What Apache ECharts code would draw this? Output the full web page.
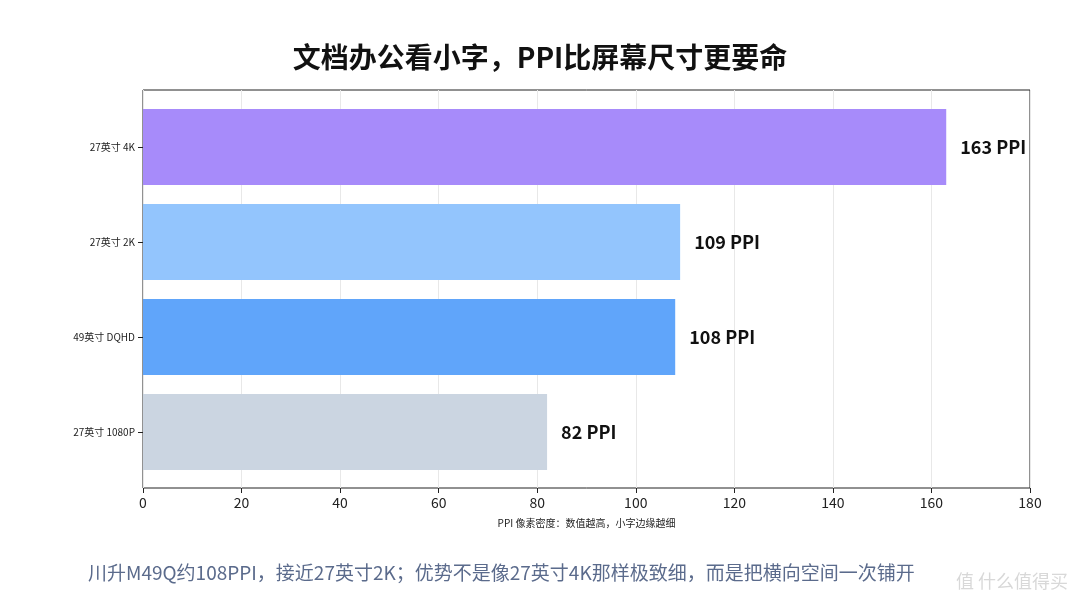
<!DOCTYPE html>
<html><head><meta charset="utf-8">
<script src="https://cdn.jsdelivr.net/npm/echarts@6/dist/echarts.min.js"></script>
<style>html,body{margin:0;padding:0;background:#fff}#c{width:1080px;height:608px}</style>
</head><body><div id="c"></div>
<script>
const categories = ['27英寸 1080P', '49英寸 DQHD', '27英寸 2K', '27英寸 4K'];
const values = [82, 108, 109, 163];
const colors = ['#cbd5e1', '#60a5fa', '#93c5fd', '#a78bfa'];
const xTicks = [0, 20, 40, 60, 80, 100, 120, 140, 160, 180];
const F = '"Noto Sans CJK SC","Noto Sans",sans-serif';
const chart = echarts.init(document.getElementById('c'));
chart.setOption({
  animation: false,
  title: {text: '文档办公看小字，PPI比屏幕尺寸更要命', left: 'center', top: 38,
    textStyle: {fontFamily: F, fontSize: 28, fontWeight: 'bold', color: '#111'}},
  graphic: [
    {type: 'text', left: 88, top: 563, style: {text: '川升M49Q约108PPI，接近27英寸2K；优势不是像27英寸4K那样极致细，而是把横向空间一次铺开',
      font: '19px ' + F, fill: '#5b6b8c'}},
    {type: 'text', right: 12, top: 572, style: {text: '值 什么值得买', font: '18px ' + F, fill: '#d8d8d8'}}
  ],
  grid: [
    {left: 143, right: 50, top: 99.5, bottom: 128.5},
    {left: 143, right: 50, top: 90, bottom: 120, show: true, borderColor: '#222', borderWidth: 1, z: 0}
  ],
  xAxis: [
    {type: 'value', min: 0, max: 180, interval: 20, offset: 8.5,
      name: 'PPI 像素密度：数值越高，小字边缘越细', nameLocation: 'middle', nameGap: 30,
      nameTextStyle: {fontFamily: F, fontSize: 10, color: '#222'},
      axisLine: {show: false}, axisTick: {show: true, lineStyle: {color: '#222'}},
      axisLabel: {fontFamily: F, fontSize: 14, color: '#222', customValues: xTicks},
      splitLine: {show: false}},
    {type: 'value', gridIndex: 1, min: 0, max: 180, interval: 20,
      axisLine: {show: false}, axisTick: {show: false}, axisLabel: {show: false},
      splitLine: {show: true, lineStyle: {color: '#e8e8e8'}}}
  ],
  yAxis: [
    {type: 'category', data: categories,
      axisLine: {show: false}, axisTick: {show: true, alignWithLabel: true, lineStyle: {color: '#222'}},
      axisLabel: {fontFamily: F, fontSize: 10, color: '#222'}},
    {type: 'value', gridIndex: 1, show: false, splitLine: {show: false}}
  ],
  series: [
    {type: 'bar', barWidth: '80%', z: 5, data: values.map((v, i) => ({value: v, itemStyle: {color: colors[i]}})),
      label: {show: true, position: 'right', distance: 14, formatter: p => p.value + ' PPI',
        fontFamily: F, fontSize: 18, fontWeight: 'bold', color: '#111'}}
  ]
});
</script></body></html>
